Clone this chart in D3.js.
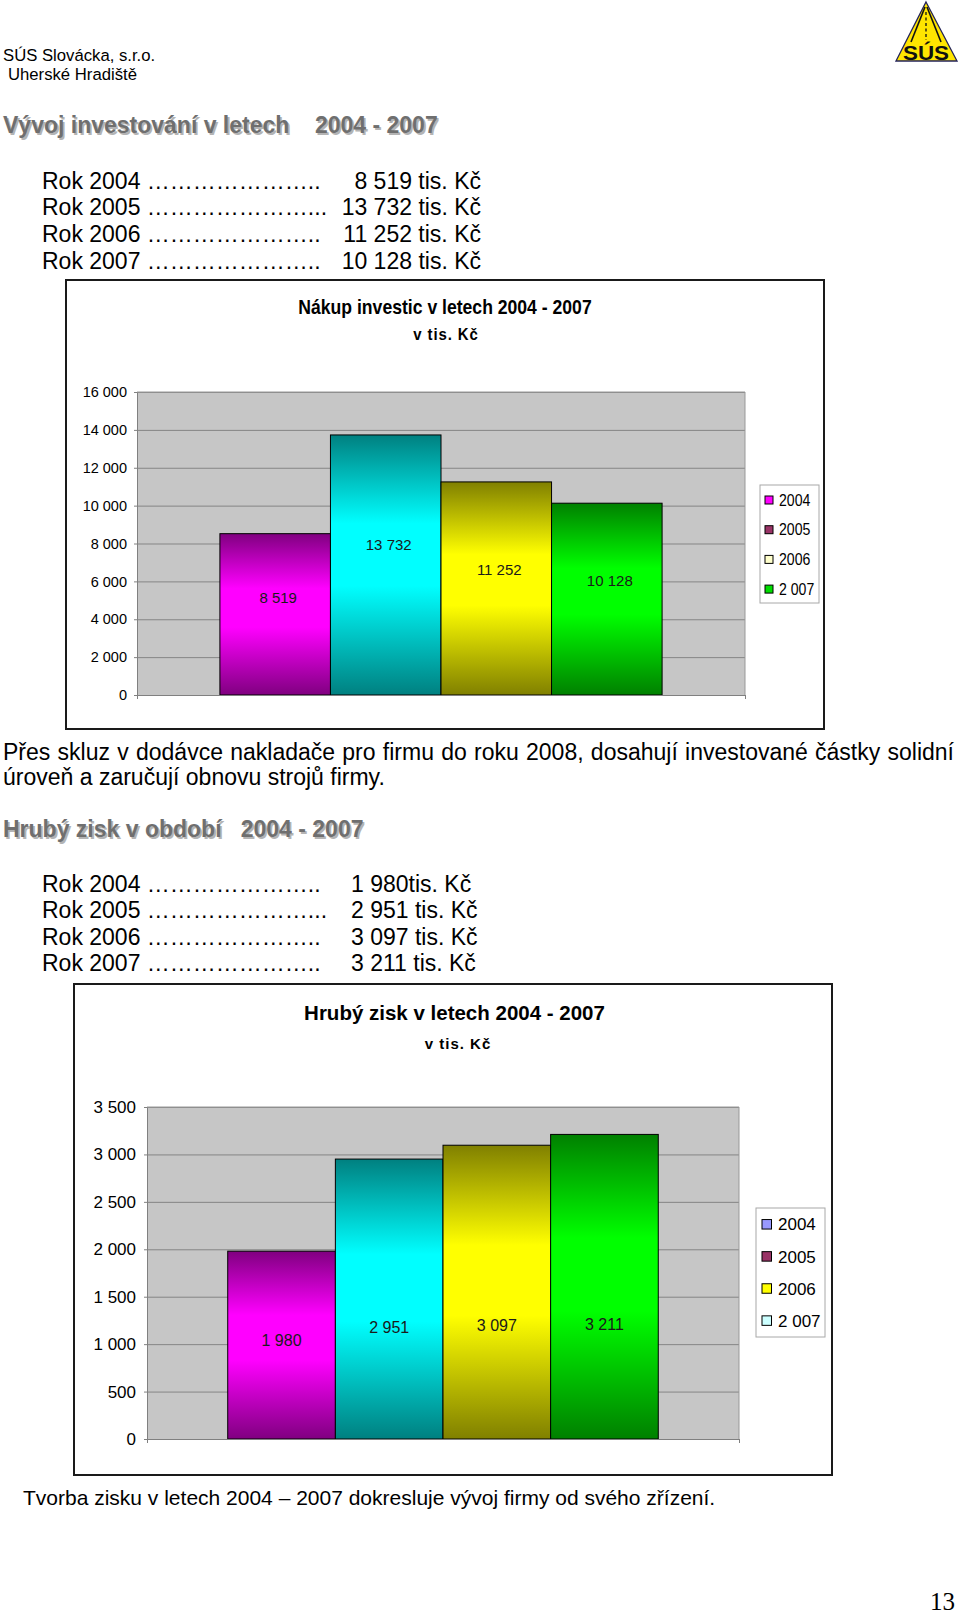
<!DOCTYPE html>
<html>
<head>
<meta charset="utf-8">
<script src="https://cdn.jsdelivr.net/npm/d3@7"></script>
<style>
  body { margin: 0; background: #fff; }
  svg { display: block; }
</style>
</head>
<body>
<svg id="page" width="960" height="1617"></svg>
<script>
// ---------- data ----------
const years = ["2004", "2005", "2006", "2007"];
const legendNames = ["2004", "2005", "2006", "2 007"];

const investValues = [8519, 13732, 11252, 10128];
const investTicks = [0, 2000, 4000, 6000, 8000, 10000, 12000, 14000, 16000];

const profitValues = [1980, 2951, 3097, 3211];
const profitTicks = [0, 500, 1000, 1500, 2000, 2500, 3000, 3500];

// text that sits around the charts
const investUnits = [" tis. Kč", " tis. Kč", " tis. Kč", " tis. Kč"];
const profitUnits = ["tis. Kč", " tis. Kč", " tis. Kč", " tis. Kč"];
const dotTails = ["..", "...", "..", ".."];
const paraLines = [
    "Přes skluz v dodávce nakladače pro firmu do roku 2008, dosahují investované částky solidní",
    "úroveň a zaručují obnovu strojů firmy."
];
const closingLine = "Tvorba zisku v letech 2004 – 2007 dokresluje vývoj firmy od svého zřízení.";

// colours (styles, kept apart from the data)
const barDark = ["#800080", "#008080", "#808000", "#008000"];
const barLight = ["#FF00FF", "#00FFFF", "#FFFF00", "#00FF00"];
const investLegendColors = ["#FF00FF", "#993366", "#FFFFCC", "#00DD00"];
const profitLegendColors = ["#9999FF", "#993366", "#FFFF00", "#CCFFFF"];

const SANS = '"Liberation Sans", Arial, Helvetica, sans-serif';
const SERIF = '"Liberation Serif", "Times New Roman", serif';

const fmt = d3.formatLocale({ decimal: ",", thousands: " ", grouping: [3], currency: ["", ""] }).format(",");

const svg = d3.select("#page").attr("font-family", SANS);
const defs = svg.append("defs");

// vertical "dark - light - dark" fills like the Excel bars
barDark.forEach((c, i) => {
    const gr = defs.append("linearGradient")
        .attr("id", "bar-grad-" + i)
        .attr("x1", 0).attr("y1", 0).attr("x2", 0).attr("y2", 1);
    [[0, c], [0.34, barLight[i]], [0.58, barLight[i]], [1, c]].forEach(s => {
        gr.append("stop").attr("offset", s[0]).attr("stop-color", s[1]);
    });
});

// squeeze text horizontally (chart 1 was pasted in narrower)
function squeeze(sel, k) {
    sel.each(function () {
        const t = d3.select(this);
        const x = +t.attr("x"), y = +t.attr("y");
        t.attr("x", 0).attr("y", 0)
            .attr("transform", `translate(${x},${y}) scale(${k},1)`);
    });
}

// ===============================
// PAGE HEADER
// ===============================
svg.append("text").attr("x", 3).attr("y", 61).attr("font-size", 16.7).text("SÚS Slovácka, s.r.o.");
svg.append("text").attr("x", 8).attr("y", 79.5).attr("font-size", 16.7).text("Uherské Hradiště");

// logo
const logo = svg.append("g");
logo.append("path")
    .attr("d", "M926,2 L957,61 L896,61 Z")
    .attr("fill", "#FFE500").attr("stroke", "#23235a").attr("stroke-width", 1.3);
logo.append("path").attr("d", "M925,7 L911,42").attr("stroke", "#111").attr("stroke-width", 1.6);
logo.append("path").attr("d", "M927,7 L941,42").attr("stroke", "#111").attr("stroke-width", 1.6);
logo.append("path").attr("d", "M926,12 L926,40").attr("stroke", "#111")
    .attr("stroke-width", 1.3).attr("stroke-dasharray", "3,2.5");
logo.append("text").attr("x", 903).attr("y", 59.5)
    .attr("font-size", 21).attr("font-weight", "bold").attr("fill", "#111")
    .attr("textLength", 46).attr("lengthAdjust", "spacingAndGlyphs")
    .text("SÚS");

function heading(text, x, y) {
    const g = svg.append("g").attr("font-size", 23).attr("font-weight", "bold");
    g.append("text").attr("x", x + 1.8).attr("y", y + 1.8).attr("fill", "#b4b4b4")
        .attr("xml:space", "preserve").style("white-space", "pre").text(text);
    g.append("text").attr("x", x).attr("y", y).attr("fill", "#6f6f6f")
        .attr("xml:space", "preserve").style("white-space", "pre").text(text);
}

function rowList(values, units, y0, step, alignRight) {
    const g = svg.append("g").attr("font-size", 23).attr("fill", "#000");
    years.forEach((yr, i) => {
        g.append("text").attr("x", 42).attr("y", y0 + i * step)
            .text("Rok " + yr + " " + "…".repeat(7) + dotTails[i]);
        g.append("text").attr("x", alignRight ? 481 : 351).attr("y", y0 + i * step)
            .attr("text-anchor", alignRight ? "end" : "start")
            .text(fmt(values[i]) + units[i]);
    });
}

heading("Vývoj investování v letech    2004 - 2007", 3, 133);
rowList(investValues, investUnits, 188.5, 26.7, true);

// ===============================
// CHARTS
// ===============================
function drawChart(o) {
    const g = svg.append("g");
    const [fx, fy, fw, fh] = o.frame;
    const [px, py, pw, ph] = o.plot;

    g.append("rect").attr("x", fx).attr("y", fy).attr("width", fw).attr("height", fh)
        .attr("fill", "#fff").attr("stroke", "#1a1a1a").attr("stroke-width", 2);

    const y = d3.scaleLinear().domain([0, d3.max(o.ticks)]).range([py + ph, py]);
    const x = d3.scaleBand().domain(years).range([px, px + pw]).paddingInner(0).paddingOuter(0.75);

    g.append("rect").attr("x", px).attr("y", py).attr("width", pw).attr("height", ph)
        .attr("fill", "#c6c6c6");

    // gridlines
    g.append("g").attr("transform", `translate(${px},0)`)
        .call(d3.axisLeft(y).tickValues(o.ticks).tickSize(-pw).tickFormat(""))
        .call(a => a.select(".domain").remove())
        .selectAll("line").attr("stroke", "#858585");

    g.append("path")
        .attr("d", `M${px},${py}H${px + pw}V${py + ph}`)
        .attr("fill", "none").attr("stroke", "#999");

    // bars
    g.selectAll(".bar").data(o.values).join("rect")
        .attr("class", "bar")
        .attr("x", (d, i) => x(years[i]))
        .attr("y", d => y(d))
        .attr("width", x.bandwidth())
        .attr("height", d => y(0) - y(d))
        .attr("fill", (d, i) => `url(#bar-grad-${i})`)
        .attr("stroke", "#000").attr("stroke-width", 1);

    // y axis
    const ya = g.append("g").attr("transform", `translate(${px},0)`)
        .call(d3.axisLeft(y).tickValues(o.ticks).tickSize(3).tickSizeOuter(0)
            .tickPadding(o.tickPad).tickFormat(fmt));
    ya.select(".domain").attr("stroke", "#808080");
    ya.selectAll("line").attr("stroke", "#808080");
    ya.selectAll("text").attr("font-family", SANS).attr("font-size", o.tickFont).attr("fill", "#000");

    // x axis (single blank category, ticks at both ends)
    const xe = d3.scaleLinear().domain([0, 1]).range([px, px + pw]);
    const xa = g.append("g").attr("transform", `translate(0,${py + ph})`)
        .call(d3.axisBottom(xe).tickValues([0, 1]).tickSize(4).tickSizeOuter(0).tickFormat(""));
    xa.select(".domain").attr("stroke", "#808080");
    xa.selectAll("line").attr("stroke", "#808080");

    // value labels (placed inside the bars, as in the workbook)
    g.selectAll(".val").data(o.values).join("text")
        .attr("class", "val")
        .attr("x", (d, i) => x(years[i]) + x.bandwidth() / 2 + o.labelDx)
        .attr("y", d => y(o.labelAt(d)))
        .attr("dy", "0.35em")
        .attr("text-anchor", "middle")
        .attr("font-size", o.labelFont)
        .attr("fill", "#1a1a1a")
        .text(d => fmt(d));

    // title
    o.title.forEach(t => {
        const tx = g.append("text").attr("x", t.x).attr("y", t.y)
            .attr("text-anchor", "middle").attr("font-weight", "bold")
            .attr("font-size", t.size).attr("letter-spacing", t.ls || 0)
            .text(t.text);
        if (o.squeeze) squeeze(tx, o.squeeze);
    });

    // legend
    const L = o.legend;
    g.append("rect").attr("x", L.box[0]).attr("y", L.box[1]).attr("width", L.box[2]).attr("height", L.box[3])
        .attr("fill", "#fff").attr("stroke", "#a8a8a8");
    legendNames.forEach((name, i) => {
        const cy = L.y0 + i * L.step;
        g.append("rect").attr("x", L.sx).attr("y", cy - L.s / 2).attr("width", L.s).attr("height", L.s)
            .attr("fill", o.legendColors[i]).attr("stroke", "#000");
        const tx = g.append("text").attr("x", L.tx).attr("y", cy).attr("dy", "0.36em")
            .attr("font-size", L.font).text(name);
        if (o.squeeze) squeeze(tx, o.squeeze);
    });
}

drawChart({
    frame: [66, 280, 758, 449],
    plot: [137, 392, 608, 303],
    values: investValues,
    ticks: investTicks,
    tickPad: 7,
    tickFont: 14.5,
    labelFont: 15,
    labelAt: v => 612 + 0.533 * v,
    labelDx: 3,
    squeeze: 0.88,
    title: [
        { text: "Nákup investic v letech 2004 - 2007", x: 445, y: 314, size: 20 },
        { text: "v tis. Kč", x: 446, y: 340, size: 17, ls: 1 }
    ],
    legendColors: investLegendColors,
    legend: { box: [760, 485, 59, 118], y0: 500, step: 29.7, sx: 765, s: 8, tx: 779, font: 16 }
});

// text between the charts
const p1 = svg.append("text").attr("x", 3).attr("y", 759.5).attr("font-size", 23).text(paraLines[0]);
const natural = p1.node().getComputedTextLength();
const gaps = paraLines[0].split(" ").length - 1;
p1.attr("word-spacing", Math.max(0, (951 - natural) / gaps));
svg.append("text").attr("x", 3).attr("y", 784.5).attr("font-size", 23).text(paraLines[1]);

heading("Hrubý zisk v období   2004 - 2007", 3, 837);
rowList(profitValues, profitUnits, 891.5, 26.5, false);

drawChart({
    frame: [74, 984, 758, 491],
    plot: [147, 1107, 592, 332],
    values: profitValues,
    ticks: profitTicks,
    tickPad: 8,
    tickFont: 17,
    labelFont: 16,
    labelAt: v => 765 + 0.138 * v,
    labelDx: 0,
    squeeze: null,
    title: [
        { text: "Hrubý zisk v letech 2004 - 2007", x: 454.5, y: 1020, size: 20.5 },
        { text: "v tis. Kč", x: 458, y: 1049, size: 15, ls: 1 }
    ],
    legendColors: profitLegendColors,
    legend: { box: [756, 1208, 69, 129], y0: 1224.3, step: 32.1, sx: 762, s: 9.5, tx: 778, font: 17 }
});

svg.append("text").attr("x", 23).attr("y", 1504.5).attr("font-size", 21).text(closingLine);

// page number
svg.append("text").attr("x", 955).attr("y", 1610).attr("text-anchor", "end")
    .attr("font-family", SERIF).attr("font-size", 25).text("13");
</script>
</body>
</html>
